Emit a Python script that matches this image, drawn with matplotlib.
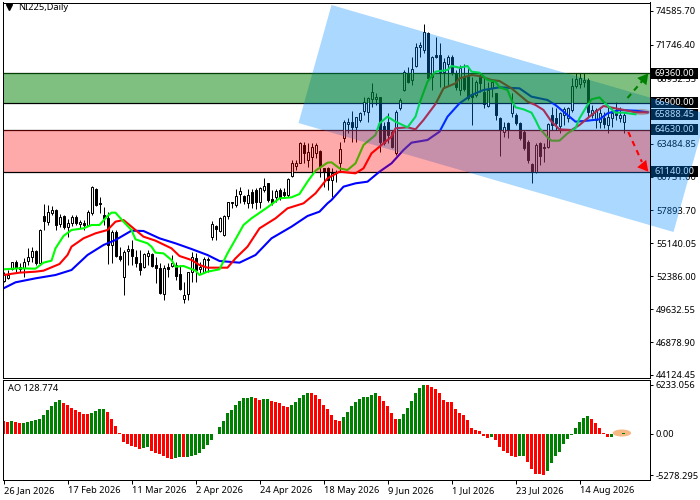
import matplotlib
matplotlib.use("Agg")
import matplotlib.pyplot as plt
from matplotlib.patches import Polygon, Ellipse, Rectangle

plt.rcParams['font.family'] = ['Noto Sans', 'DejaVu Sans']

opens = [52014,52209,52963,53604,52963,53102,53660,53967,54525,53465,57427,56952,57650,57929,56757,57427,56534,56813,57371,56757,
56869,56673,57650,59715,58487,57510,57231,54999,56115,54079,52293,54525,54637,54023,53521,53186,54079,54246,53353,53047,
50870,53130,53242,53326,52572,50452,50870,52767,53883,53019,52767,53744,55641,56590,56199,55836,57427,58487,58347,59240,
59101,58487,59463,59603,58626,59603,60161,58822,58989,59603,59463,59184,60803,61612,61891,63370,62114,62337,62728,62895,
61416,61416,60440,60998,61891,63927,65127,65267,64904,65462,66243,66159,67192,67220,67359,64960,65322,64485,62672,66438,
67973,69312,68810,69982,71600,71321,72772,69033,70902,70902,69507,70149,70763,69424,67973,69089,69145,67638,67555,69089,
67833,66634,68112,67694,65601,64485,65183,66020,65880,65183,64485,63648,61779,61137,63565,63230,63230,65880,65601,64960,
65880,65601,66299,68308,68475,68670,68810,65880,65462,65322,65601,65043,65601,66299,65601,65322]
closes = [52488,52488,53549,53102,53186,53604,53967,54497,53521,56255,57036,57762,57929,56673,57371,56478,56869,57371,56813,56925,
56701,57762,59882,58347,58403,57287,54999,56115,54079,53800,54442,54637,54079,53465,52907,54246,54302,53242,53047,51010,
53047,53019,53465,52405,51289,50814,52712,54023,52907,53130,53800,53800,56757,56367,57231,57427,58571,58599,59101,59519,
58710,59185,58543,58626,59798,59938,58766,58487,59547,58906,59184,60496,61835,61835,63565,62672,62811,63230,63370,61612,
61137,60440,60998,61137,63007,65322,65322,64848,65685,66020,66997,67275,67833,67415,63648,63509,64206,63230,66159,67136,
69507,68670,69703,71600,71739,72800,68950,70763,70763,69507,70345,70707,69424,68252,69786,68029,67275,67359,68670,68531,
66801,67973,68670,65881,64625,64848,64625,66857,65239,63927,63090,62114,61137,63369,62449,63090,65127,65043,65183,66020,
66355,66438,68308,68894,68949,68810,66159,66299,66299,66020,65127,65741,66020,65880,65880,65888]
highs = [52767,52907,53604,53744,53465,53883,54720,54860,54581,56311,58403,58347,58264,57985,57566,57510,57148,57510,57510,57092,
57092,57929,59938,59770,59045,58208,57790,56255,56255,54860,54581,54999,55418,54581,54581,54358,54581,54302,54023,53465,
53326,53465,54162,53604,53326,51931,52767,54442,54302,53604,54023,53967,57036,56673,57371,57510,58626,58626,59659,59826,
59185,59659,59659,59742,59882,60579,60217,59603,59659,59742,59742,60579,62114,62114,63648,63648,63509,63509,63509,62951,
61416,61556,61416,61277,63648,65462,65601,66243,65741,66159,67415,67359,68587,67694,67415,65322,66020,64625,66299,67275,
69647,69926,70763,71879,72019,73497,72855,70819,72437,71879,70623,70902,70902,69647,70066,70149,69926,69089,68810,69368,
68950,68670,68810,67694,65741,65322,65322,67694,66020,65322,64625,63788,61835,63509,63648,63509,65183,66578,66438,66159,
66578,66578,68949,69368,69368,69368,68949,66717,66438,66578,66159,66578,66438,66996,66578,66020]
lows = [51930,52126,52907,52767,52767,52349,53326,53604,53326,53326,56255,56673,57510,56255,56478,56339,55697,56590,56673,56394,
56255,56590,57510,58264,57650,56673,53409,53465,53967,53688,50814,53326,53326,53186,52488,53047,53326,53186,51791,50898,
50396,52349,53186,52070,51233,50173,50396,51931,51931,52628,52628,52767,55418,55418,56115,55753,57148,58068,58152,58487,
58431,58068,58068,57985,58068,59463,58626,58347,58626,58766,59045,59045,60719,61277,61835,61835,61556,60998,62253,60719,
59882,59603,59045,60301,61137,63648,64346,63648,63648,65322,65881,65322,66522,66717,62811,63370,63509,63090,62532,66299,
67917,68531,68391,69926,70763,71042,68810,67973,70623,68252,68252,68391,69228,67973,67555,67917,67136,65044,67415,67833,
66438,66578,67415,65462,62449,64067,63927,65741,65043,63788,62951,61835,60161,60998,61696,61974,63090,64625,64625,64346,
65043,65322,66159,68112,68112,68252,65741,65601,64765,64765,64765,64346,64904,65462,65322,64346]

green_idx = [0,4,8,10,12,13,15,17,20,22,24,26,27,28,30,32,33,36,37,38,40,42,43,45,48,49,51,54,56,58,60,62,66,69,72,74,76,78,81,
82,84,86,88,90,93,94,96,98,101,103,104,106,108,111,112,114,116,117,119,121,123,124,
126,127,128,130,132,133,134,136,137,139,141,143,144,146,147,149,150,152,153,155,158]
green_ma = [52963,53047,53019,53521,53688,54720,55753,56255,56394,56673,56673,57427,57706,57706,56952,56255,55474,55139,54860,54358,54302,53744,53186,53242,52851,52488,52767,52963,54302,55474,56673,57231,58152,58905,58989,59268,60300,61221,61891,
61919,61416,61277,61835,63370,64206,65183,65741,65322,64848,65741,66857,68670,69507,69647,69982,69842,69982,69507,69424,68810,68670,68196,
67973,67136,66522,66355,66076,65462,64765,64011,63732,63732,64346,64765,65601,66717,67192,67359,66997,66355,66076,66076,65936]
red_idx = [0,4,8,10,14,16,17,20,23,26,28,30,31,33,35,38,42,44,47,49,51,56,58,61,64,68,71,75,78,81,
84,88,90,92,94,97,98,101,103,105,108,110,113,114,117,119,122,124,
127,129,131,133,135,137,139,142,144,147,150,153,156,158,161]
red_ma = [52488,52684,52767,52851,53409,54162,54860,55558,55976,56255,56952,57092,56813,56255,55697,55362,54720,54079,53744,53326,53102,53102,53883,54860,56394,57231,58068,58487,59324,60579,
61138,60998,61416,62672,63230,64067,64765,64848,64681,65462,66801,68112,68531,68950,69228,69145,68810,68726,
68112,67555,66996,66717,66299,65322,64681,64625,65043,65880,66634,66438,66243,66104,66104]
blue_idx = [0,3,8,13,17,21,25,28,32,35,39,43,47,51,54,59,63,67,72,76,79,81,
82,85,88,91,94,97,100,102,106,109,111,114,117,120,124,
129,132,136,138,141,143,146,149,151,154,158,161]
blue_ma = [51372,51875,52209,52488,52907,54162,54999,55418,56199,56171,55558,55139,54665,54162,53660,53521,54162,55558,56534,57427,57790,58487,
58766,59882,60161,60300,61137,61835,62951,63565,63788,64485,65741,66857,67555,67973,68196,
68112,67415,67136,66717,65880,65322,65406,65518,66020,66299,66243,66104]

ao_values = [1621,1493,1621,1493,1365,1365,1493,1621,1749,1877,2388,3028,3540,4052,4308,3966,3668,3284,3028,2772,
2516,2474,2644,2900,3156,3156,2772,1877,981,85,-1066,-1322,-1578,-1706,-1962,-1834,-1706,-2218,-2474,-2602,
-2858,-3113,-3241,-3113,-2986,-3028,-2986,-2858,-2730,-2474,-1962,-1450,-810,-85,853,1621,2644,3028,3668,4180,
4564,4564,4692,4521,4350,4436,4436,4180,4052,3924,3540,3412,3668,4052,4564,4947,5203,5161,4947,4436,
3668,3156,2388,1749,1621,2133,2772,3540,4052,4436,4692,4692,4947,5203,4819,4180,3540,2644,1877,1877,
2516,3284,4180,5203,5843,6233,6200,5971,5715,5203,4308,4094,4052,3156,2644,2388,1749,725,469,341,
-256,-512,-427,-810,-1706,-2218,-2474,-2858,-2986,-2858,-2815,-3625,-4521,-5161,-5203,-5278,-4777,-3753,-2858,-2346,
-1322,-682,-128,725,1493,2005,2260,1877,1365,725,85,-427,-384,-85,-60,128.774]

price_ticks = [74585.70,71746.40,68952.55,63484.85,60731.00,57893.70,55140.05,52386.00,49632.55,46878.90,44124.45]
ao_ticks = [6233.056,0.0,-5278.295]
ao_tick_labels = ['6233.056','0.00','-5278.295']
date_idx = [0,16,32,48,64,80,96,112,128,144]
date_labels = ['26 Jan 2026','17 Feb 2026','11 Mar 2026','2 Apr 2026','24 Apr 2026','18 May 2026','9 Jun 2026','1 Jul 2026','23 Jul 2026','14 Aug 2026']
level_labels = [69360.00,66900.00,65888.45,64630.00,61140.00]
green_zone = (66900,69360)
red_zone = (61140,64630)
channel_i = [82,73.75,167.5,175.75]
channel_p = [75087,65211,56088,65964]

W, H = 700, 500
fig = plt.figure(figsize=(7, 5), dpi=100, facecolor='white')
ax = fig.add_axes([2.5/W, 1-377.5/H, 647/W, 375/H])
ax2 = fig.add_axes([2.5/W, 1-479.5/H, 647/W, 100/H])
FS = 6.7
LW = 0.72

# candles
n = len(opens)
xs = list(range(n))
ax.vlines(xs, lows, highs, color='black', lw=LW, zorder=1)
bottoms = [min(o, c) for o, c in zip(opens, closes)]
heights = [abs(c-o) for o, c in zip(opens, closes)]
face = ['white' if c >= o else 'black' for o, c in zip(opens, closes)]
ax.bar(xs, heights, bottom=bottoms, width=0.5, color=face, edgecolor='black', lw=LW, zorder=1.05)

# moving averages
for idx, vals, col in [(blue_idx, blue_ma, '#0000ff'), (red_idx, red_ma, '#ff0000'), (green_idx, green_ma, '#00ff00')]:
    ax.plot(idx, vals, color=col, lw=1.5, zorder=1.1, solid_joinstyle='round')

# highlight on the last price
ax.add_patch(Ellipse((159.5, 66132), 4.4, 520, facecolor='#f0a060', alpha=0.75, edgecolor='none', zorder=1.08))

# channel and zones, translucent over the marks
ax.add_patch(Polygon(list(zip(channel_i, channel_p)), closed=True, facecolor=(0, 138/255, 1, 1/3),
                     edgecolor='none', clip_on=False, zorder=1.5))
ax.axhspan(*green_zone, facecolor=(0, 0.5, 0, 0.5), edgecolor='none', zorder=1.6)
ax.axhspan(*red_zone, facecolor=(1, 0, 0, 1/3), edgecolor='none', zorder=1.6)
for lev in list(green_zone)+list(red_zone):
    ax.axhline(lev, color='black', lw=0.9, zorder=1.02)

# arrows
ax.plot([156, 160], [67303, 68850], color='#008000', lw=1.5, ls=(0, (2.6, 2.2)), zorder=2)
ax.annotate('', xy=(161.2, 69360), xytext=(158.8, 68350),
            arrowprops=dict(arrowstyle='-|>,head_length=0.75,head_width=0.42', color='#008000', lw=0, shrinkA=0, shrinkB=0), zorder=2)
ax.plot([156.2, 159.6], [64458, 61950], color='#ff0000', lw=1.5, ls=(0, (2.6, 2.2)), zorder=2)
ax.annotate('', xy=(161.2, 61140), xytext=(158.6, 62200),
            arrowprops=dict(arrowstyle='-|>,head_length=0.75,head_width=0.42', color='#ff0000', lw=0, shrinkA=0, shrinkB=0), zorder=2)

ax.set_xlim(-0.25, 161.5)
ax.set_ylim(43909, 75297)
ax.set_xticks([])
ax.yaxis.tick_right()
ax.set_yticks(price_ticks)
ax.set_yticklabels([f'{v:.2f}' for v in price_ticks], fontsize=FS, color='black')
ax.tick_params(axis='y', length=2.5, width=LW, pad=2.2)
ax.yaxis.set_zorder(0.5)
for s in ax.spines.values():
    s.set_linewidth(LW)

# level boxes on the price scale
ytr = ax.get_yaxis_transform()
for v in level_labels:
    ax.add_patch(Rectangle((1+1.5/647, v-460), 47/647, 920, transform=ytr, facecolor='black', edgecolor='none',
                           clip_on=False, zorder=0.55))
    ax.text(1+5.2/647, v, f'{v:.2f}', transform=ytr, ha='left', va='center', color='white', fontsize=FS,
            clip_on=False, zorder=0.6)

# oscillator
ao_colors = ['#ff0000'] + ['#008000' if b >= a else '#ff0000' for a, b in zip(ao_values, ao_values[1:])]
ax2.add_patch(Ellipse((154.6, 90), 4.6, 900, facecolor='#f4a868', alpha=0.8, edgecolor='none', zorder=1))
ax2.bar(range(len(ao_values)), ao_values, width=0.72, color=ao_colors, edgecolor='none', zorder=2)
ax2.set_xlim(-0.25, 161.5)
ax2.set_ylim(-5853, 6936)
ax2.yaxis.tick_right()
ax2.set_yticks(ao_ticks)
ax2.set_yticklabels(ao_tick_labels, fontsize=FS)
ax2.tick_params(axis='y', length=2.5, width=LW, pad=1.8)
ax2.set_xticks(date_idx)
ax2.set_xticklabels(date_labels, fontsize=FS, ha='left')
ax2.tick_params(axis='x', length=3, width=LW, pad=1.5)
for s in ax2.spines.values():
    s.set_linewidth(LW)

# captions
ax.plot([0.0105], [0.9875], marker='v', ms=5, color='black', mec='black', transform=ax.transAxes, clip_on=False, zorder=3)
fig.text(18/W, 1-7.5/H, 'NI225,Daily', fontsize=FS, va='center', ha='left', color='black')
fig.text(7.5/W, 1-388.5/H, 'AO 128.774', fontsize=FS, va='center', ha='left', color='black')

fig.savefig('out.png', dpi=100)
